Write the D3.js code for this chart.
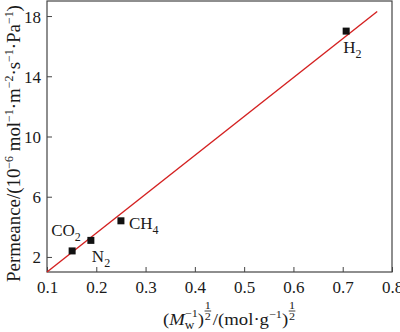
<!DOCTYPE html>
<html>
<head>
<meta charset="utf-8">
<script src="https://cdn.jsdelivr.net/npm/d3@7/dist/d3.min.js"></script>
<style>
  body { margin: 0; background: #fff; }
  svg text { font-family: 'Liberation Serif', 'DejaVu Serif', serif; fill: #1a1a1a; }
</style>
</head>
<body>
<svg id="chart"></svg>
<script>
// gases and their values
const gases = ['CO2', 'N2', 'CH4', 'H2'];
const invSqrtM = [0.151, 0.189, 0.25, 0.707];
const permeance = [2.4, 3.1, 4.4, 17.0];

// linear fit endpoints
const fitX = [0.1, 0.77];
const fitY = [1.0, 18.3];

const xTicks = [0.1, 0.2, 0.3, 0.4, 0.5, 0.6, 0.7, 0.8];
const yTicks = [2, 6, 10, 14, 18];

const width = 400;
const height = 332;
const plotLeft = 47, plotRight = 392, plotTop = 1, plotBottom = 272;
const serif = "'Liberation Serif', 'DejaVu Serif', serif";

const svg = d3.select('#chart').attr('width', width).attr('height', height);

const x = d3.scaleLinear().domain([0.1, 0.8]).range([plotLeft, plotRight]);
const y = d3.scaleLinear().domain([1, 19]).range([plotBottom, plotTop]);

// frame
svg.append('rect')
  .attr('x', plotLeft).attr('y', plotTop)
  .attr('width', plotRight - plotLeft).attr('height', plotBottom - plotTop)
  .attr('fill', 'none').attr('stroke', '#444').attr('stroke-width', 1.2);

const xAxis = svg.append('g')
  .attr('transform', 'translate(0,' + plotBottom + ')')
  .call(d3.axisBottom(x).tickValues(xTicks).tickSizeInner(-5).tickSizeOuter(0).tickPadding(9).tickFormat(d3.format('.1f')));
const yAxis = svg.append('g')
  .attr('transform', 'translate(' + plotLeft + ',0)')
  .call(d3.axisLeft(y).tickValues(yTicks).tickSizeInner(-5).tickSizeOuter(0).tickPadding(6));

[xAxis, yAxis].forEach((g) => {
  g.attr('font-family', serif).attr('font-size', 17);
  g.select('.domain').remove();
  g.selectAll('line').attr('stroke', '#444');
  g.selectAll('text').attr('fill', '#1a1a1a');
});
yAxis.selectAll('text').attr('dy', '0.35em');

// fit line
svg.append('line')
  .attr('x1', x(fitX[0])).attr('y1', y(fitY[0]))
  .attr('x2', x(fitX[1])).attr('y2', y(fitY[1]))
  .attr('stroke', '#d42020').attr('stroke-width', 1.4);

// points
svg.selectAll('rect.pt')
  .data(gases)
  .enter()
  .append('rect')
  .attr('class', 'pt')
  .attr('x', (d, i) => x(invSqrtM[i]) - 3.5)
  .attr('y', (d, i) => y(permeance[i]) - 3.5)
  .attr('width', 7).attr('height', 7)
  .attr('fill', '#111');

// point labels: [dx, dy] offsets from point
const labelOffsets = { CO2: [-21, -15], N2: [1, 22], CH4: [8, 8], H2: [-3, 22] };
gases.forEach((g, i) => {
  const t = svg.append('text')
    .attr('x', x(invSqrtM[i]) + labelOffsets[g][0])
    .attr('y', y(permeance[i]) + labelOffsets[g][1])
    .style('font-size', '17px');
  const base = g.replace(/\d+$/, '');
  const sub = g.slice(base.length);
  t.append('tspan').text(base);
  t.append('tspan').attr('dy', 5).style('font-size', '12px').text(sub);
});

// y axis title, stretched to the length it has in the figure
const yt = svg.append('text')
  .attr('text-anchor', 'middle')
  .style('font-size', '19px');
const yParts = [['Permeance/(10', 0], ['−6', 1], [' mol', 0], ['−1', 1], ['·m', 0], ['−2', 1],
  ['·s', 0], ['−1', 1], ['·Pa', 0], ['−1', 1], [')', 0]];
let lift = 0;
yParts.forEach(([txt, sup]) => {
  const want = sup ? -7 : 0;
  yt.append('tspan').attr('dy', want - lift)
    .style('font-size', sup ? '12px' : '19px').text(txt);
  lift = want;
});
const ytLen = yt.node().getBBox().width;
yt.attr('transform', 'translate(20,143.5) rotate(-90) scale(' + (277 / ytLen) + ',1)');

// x axis title, laid out piece by piece
const xBase = 325;
const xg = svg.append('g');
let cx = 0;
function piece(txt, size, dy, italic) {
  const t = xg.append('text').attr('x', cx).attr('y', xBase + dy)
    .style('font-size', size + 'px').text(txt);
  if (italic) t.style('font-style', 'italic');
  return t.node().getComputedTextLength();
}
function frac() {
  xg.append('text').attr('x', cx + 3.5).attr('y', xBase - 16).attr('text-anchor', 'middle')
    .style('font-size', '11px').text('1');
  xg.append('line').attr('x1', cx + 0.5).attr('x2', cx + 6.5)
    .attr('y1', xBase - 14).attr('y2', xBase - 14).attr('stroke', '#1a1a1a').attr('stroke-width', 0.8);
  xg.append('text').attr('x', cx + 3.5).attr('y', xBase - 5).attr('text-anchor', 'middle')
    .style('font-size', '11px').text('2');
  cx += 8;
}
cx += piece('(', 17, 0);
cx += piece('M', 17, 0, true);
const wStart = cx;
const wW = piece('w', 12, 4);
cx = wStart;
const supW = piece('−1', 11, -8);
cx = wStart + Math.max(wW, supW);
cx += piece(')', 17, 0);
frac();
cx += piece('/(mol·g', 17, 0);
cx += piece('−1', 11, -7);
cx += piece(')', 17, 0);
frac();
const xs = 134 / cx;
xg.attr('transform', 'translate(163,0) scale(' + xs + ',1)');
</script>
</body>
</html>
